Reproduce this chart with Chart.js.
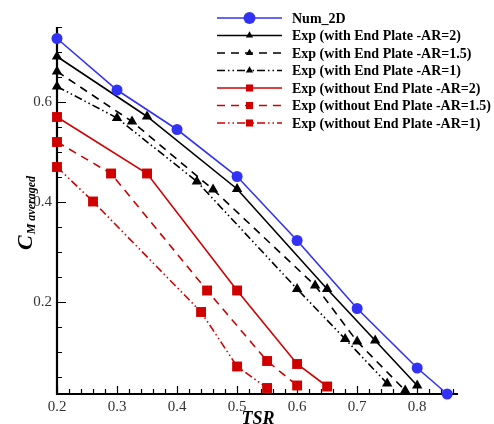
<!DOCTYPE html>
<html>
<head>
<meta charset="utf-8">
<script src="https://cdn.jsdelivr.net/npm/chart.js@4/dist/chart.umd.min.js"></script>
<style>
  html, body { margin: 0; padding: 0; background: #fff; }
  #wrap { width: 494px; height: 424px; }
</style>
</head>
<body>
<div id="wrap"><canvas id="chart" width="494" height="424"></canvas></div>
<script>
// values
const tsrNum = [0.2, 0.3, 0.4, 0.5, 0.6, 0.7, 0.8, 0.85];
const cmNum = [0.727, 0.624, 0.545, 0.451, 0.323, 0.187, 0.068, 0.016];

const tsrEpAr2 = [0.2, 0.35, 0.5, 0.65, 0.73, 0.8];
const cmEpAr2 = [0.691, 0.571, 0.426, 0.226, 0.123, 0.033];
const tsrEpAr15 = [0.2, 0.325, 0.46, 0.63, 0.7, 0.78];
const cmEpAr15 = [0.661, 0.561, 0.425, 0.233, 0.121, 0.023];
const tsrEpAr1 = [0.2, 0.3, 0.433, 0.6, 0.68, 0.75];
const cmEpAr1 = [0.631, 0.568, 0.441, 0.226, 0.126, 0.037];

const tsrNoAr2 = [0.2, 0.35, 0.5, 0.6, 0.65];
const cmNoAr2 = [0.57, 0.457, 0.223, 0.076, 0.031];
const tsrNoAr15 = [0.2, 0.29, 0.45, 0.55, 0.6];
const cmNoAr15 = [0.52, 0.457, 0.223, 0.082, 0.033];
const tsrNoAr1 = [0.2, 0.26, 0.44, 0.5, 0.55];
const cmNoAr1 = [0.47, 0.401, 0.18, 0.071, 0.028];

const xTickLabels = [0.2, 0.3, 0.4, 0.5, 0.6, 0.7, 0.8];
const yTickLabels = [0.2, 0.4, 0.6];

const BLUE = '#3232f5';
const RED = '#d00000';
const BLACK = '#000000';
const DASH = [8, 6];
const DASHDOT = [8, 3, 1.5, 3, 1.5, 3];

function pts(xs, ys) {
    return xs.map((x, i) => ({x: x, y: ys[i]}));
}

function series(label, xs, ys, color, dash, style, radius) {
    return {
        label: label,
        data: pts(xs, ys),
        borderColor: color,
        backgroundColor: color,
        borderWidth: 1.6,
        borderDash: dash,
        pointStyle: style,
        pointRadius: radius,
        pointBorderWidth: 0,
        pointBackgroundColor: color,
        tension: 0,
        clip: false
    };
}

const datasets = [
    series('Num_2D', tsrNum, cmNum, BLUE, [], 'circle', 5.5),
    series('Exp (with End Plate -AR=2)', tsrEpAr2, cmEpAr2, BLACK, [], 'triangle', 6),
    series('Exp (with End Plate -AR=1.5)', tsrEpAr15, cmEpAr15, BLACK, DASH, 'triangle', 6),
    series('Exp (with End Plate -AR=1)', tsrEpAr1, cmEpAr1, BLACK, DASHDOT, 'triangle', 6),
    series('Exp (without End Plate -AR=2)', tsrNoAr2, cmNoAr2, RED, [], 'rect', 7),
    series('Exp (without End Plate -AR=1.5)', tsrNoAr15, cmNoAr15, RED, DASH, 'rect', 7),
    series('Exp (without End Plate -AR=1)', tsrNoAr1, cmNoAr1, RED, DASHDOT, 'rect', 7)
];

// inward ticks, axis lines, titles and the line+marker legend
const framePlugin = {
    id: 'frame',
    beforeDatasetsDraw(chart) {
        const ctx = chart.ctx;
        const area = chart.chartArea;
        const xs = chart.scales.x, ys = chart.scales.y;
        ctx.save();
        ctx.strokeStyle = '#000';
        ctx.lineWidth = 1.2;
        ctx.beginPath();
        for (let v = 0.2; v <= 0.861; v += 0.02) {
            const px = Math.round(xs.getPixelForValue(v)) + 0.5;
            const major = Math.abs(v * 10 - Math.round(v * 10)) < 1e-6;
            ctx.moveTo(px, area.bottom);
            ctx.lineTo(px, area.bottom - (major ? 8 : 5));
        }
        for (let v = 0.05; v <= 0.751; v += 0.05) {
            const py = Math.round(ys.getPixelForValue(v)) + 0.5;
            const major = Math.abs(v * 5 - Math.round(v * 5)) < 1e-6;
            ctx.moveTo(area.left, py);
            ctx.lineTo(area.left + (major ? 9 : 5), py);
        }
        ctx.stroke();
        ctx.lineWidth = 2.2;
        ctx.beginPath();
        ctx.moveTo(area.left, area.top);
        ctx.lineTo(area.left, area.bottom);
        ctx.lineTo(area.right, area.bottom);
        ctx.stroke();
        ctx.restore();
    },
    afterDatasetsDraw(chart) {
        const ctx = chart.ctx;
        ctx.save();
        ctx.fillStyle = '#000';

        // x title
        ctx.font = 'bold italic 18px "Liberation Serif"';
        ctx.textAlign = 'center';
        ctx.textBaseline = 'alphabetic';
        ctx.fillText('TSR', 258, 424);

        // y title, rotated
        ctx.save();
        ctx.translate(32, 250);
        ctx.rotate(-Math.PI / 2);
        ctx.textAlign = 'left';
        ctx.font = 'bold italic 22px "Liberation Serif"';
        ctx.fillText('C', 0, 0);
        const wc = ctx.measureText('C').width;
        ctx.font = 'bold italic 12px "Liberation Serif"';
        ctx.fillText('M averaged', wc + 1, 3);
        ctx.restore();

        // legend
        const x0 = 217, x1 = 282, xm = 249.5, xt = 292;
        const rows = [18, 35.5, 53, 70.5, 88, 105.5, 123];
        chart.data.datasets.forEach((ds, i) => {
            const y = rows[i];
            ctx.strokeStyle = ds.borderColor;
            ctx.lineWidth = ds.borderWidth;
            ctx.setLineDash(ds.borderDash);
            ctx.beginPath();
            ctx.moveTo(x0, y);
            ctx.lineTo(x1, y);
            ctx.stroke();
            ctx.setLineDash([]);
            ctx.fillStyle = ds.borderColor;
            const r = ds.pointStyle === 'circle' ? 6 : ds.pointStyle === 'rect' ? 5 : 4.2;
            Chart.helpers.drawPoint(ctx, {pointStyle: ds.pointStyle, radius: r, rotation: 0, borderWidth: 0}, xm, y);
            ctx.fillStyle = '#000';
            ctx.font = 'bold 14px "Liberation Serif"';
            ctx.textAlign = 'left';
            ctx.textBaseline = 'middle';
            ctx.fillText(ds.label, xt, y + 1);
        });
        ctx.restore();
    }
};

new Chart(document.getElementById('chart'), {
    type: 'line',
    data: {datasets: datasets},
    options: {
        responsive: false,
        animation: false,
        layout: {padding: {top: 27, right: 36, left: 0, bottom: 0}},
        plugins: {legend: {display: false}, tooltip: {enabled: false}},
        scales: {
            x: {
                type: 'linear',
                min: 0.2,
                max: 0.868,
                afterBuildTicks: s => { s.ticks = xTickLabels.map(v => ({value: v})); },
                afterFit: s => { s.height = 30; },
                grid: {display: false, drawTicks: false},
                border: {display: false},
                ticks: {
                    padding: 4,
                    color: '#333',
                    font: {family: 'Liberation Serif', size: 15},
                    callback: v => v.toFixed(1)
                }
            },
            y: {
                type: 'linear',
                min: 0.016,
                max: 0.75,
                afterBuildTicks: s => { s.ticks = yTickLabels.map(v => ({value: v})); },
                afterFit: s => { s.width = 57; },
                grid: {display: false, drawTicks: false},
                border: {display: false},
                ticks: {
                    padding: 5,
                    color: '#333',
                    font: {family: 'Liberation Serif', size: 15},
                    callback: v => v.toFixed(1)
                }
            }
        }
    },
    plugins: [framePlugin]
});
</script>
</body>
</html>
